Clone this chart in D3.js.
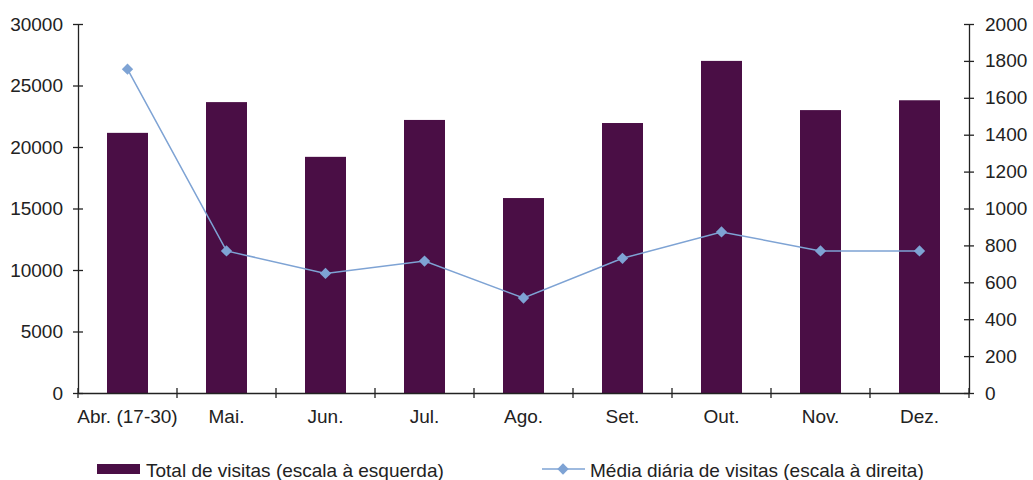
<!DOCTYPE html>
<html><head><meta charset="utf-8">
<script src="https://cdn.jsdelivr.net/npm/d3@7"></script>
<style>body{margin:0;background:#fff}svg{display:block;font-family:"Liberation Sans",Arial,sans-serif}</style>
</head><body><svg id="c" width="1033" height="480"></svg>
<script>
const categories = ["Abr. (17-30)","Mai.","Jun.","Jul.","Ago.","Set.","Out.","Nov.","Dez."];
const totalVisitas = [21150,23650,19200,22200,15850,21950,27000,23000,23800];
const mediaDiaria = [1755,770,648,715,515,730,873,770,770];
const leftTicks = [0,5000,10000,15000,20000,25000,30000];
const rightTicks = [0,200,400,600,800,1000,1200,1400,1600,1800,2000];
const legendLabels = ["Total de visitas (escala à esquerda)","Média diária de visitas (escala à direita)"];

const barColor = "#4a0e45", lineColor = "#7ea3d4", axisColor = "#222", textColor = "#222";
const FS = 19;
const svg = d3.select("#c");
const L = 78, R = 969, T = 24, B = 393;
const xb = d3.scaleBand().domain(categories).range([L, R]);
const yL = d3.scaleLinear().domain([0,30000]).range([B, T]);
const yR = d3.scaleLinear().domain([0,2000]).range([B, T]);

svg.append("g").selectAll("rect").data(categories).join("rect")
  .attr("x", d => xb(d) + xb.bandwidth()/2 - 20.5)
  .attr("width", 41)
  .attr("y", (d,i) => yL(totalVisitas[i]))
  .attr("height", (d,i) => B - yL(totalVisitas[i]))
  .attr("fill", barColor);

function styleAxis(g){
  g.select(".domain").attr("stroke", axisColor).attr("stroke-width",1.3);
  g.selectAll(".tick line").attr("stroke", axisColor).attr("stroke-width",1.3);
  g.selectAll("text").attr("fill", textColor).attr("font-size",FS).attr("font-family","Liberation Sans, Arial, sans-serif");
}
const gl = svg.append("g").attr("transform",`translate(${L},0)`)
  .call(d3.axisLeft(yL).tickValues(leftTicks).tickFormat(d3.format("d")).tickSize(0).tickSizeOuter(0).tickPadding(15));
styleAxis(gl);
gl.selectAll(".tick line").attr("x1",-5).attr("x2",5);
const gr = svg.append("g").attr("transform",`translate(${R},0)`)
  .call(d3.axisRight(yR).tickValues(rightTicks).tickFormat(d3.format("d")).tickSize(0).tickSizeOuter(0).tickPadding(16));
styleAxis(gr);
gr.selectAll(".tick line").attr("x1",-5).attr("x2",5);
const gx = svg.append("g").attr("transform",`translate(0,${B})`)
  .call(d3.axisBottom(xb).tickSize(0).tickSizeOuter(0).tickPadding(0));
styleAxis(gx);
gx.selectAll(".tick text").attr("dy",null).attr("y",30);
const bounds = categories.map(c => xb(c)).concat([R]);
gx.selectAll(".bt").data(bounds).join("line").attr("class","bt")
  .attr("x1", d=>d).attr("x2", d=>d).attr("y1",-5).attr("y2",5)
  .attr("stroke", axisColor).attr("stroke-width",1.3);

const cx = d => xb(d) + xb.bandwidth()/2;
const line = d3.line().x((d,i)=>cx(categories[i])).y(d=>yR(d));
svg.append("path").datum(mediaDiaria).attr("d", line).attr("fill","none")
  .attr("stroke", lineColor).attr("stroke-width",1.5);
const diamond = d3.symbol().type(d3.symbolSquare).size(64);
svg.append("g").selectAll("path").data(mediaDiaria).join("path")
  .attr("d", diamond)
  .attr("transform",(d,i)=>`translate(${cx(categories[i])},${yR(d)}) rotate(45)`)
  .attr("fill", lineColor);

const lg = svg.append("g");
lg.append("rect").attr("x",97).attr("y",464).attr("width",43).attr("height",10).attr("fill",barColor);
lg.append("text").attr("x",146).attr("y",477).text(legendLabels[0]).attr("font-size",FS).attr("fill",textColor);
lg.append("line").attr("x1",542).attr("x2",585).attr("y1",469).attr("y2",469).attr("stroke",lineColor).attr("stroke-width",1.5);
lg.append("path").attr("d",diamond).attr("transform","translate(563,469) rotate(45)").attr("fill",lineColor);
lg.append("text").attr("x",590).attr("y",477).text(legendLabels[1]).attr("font-size",FS).attr("fill",textColor);
</script></body></html>
